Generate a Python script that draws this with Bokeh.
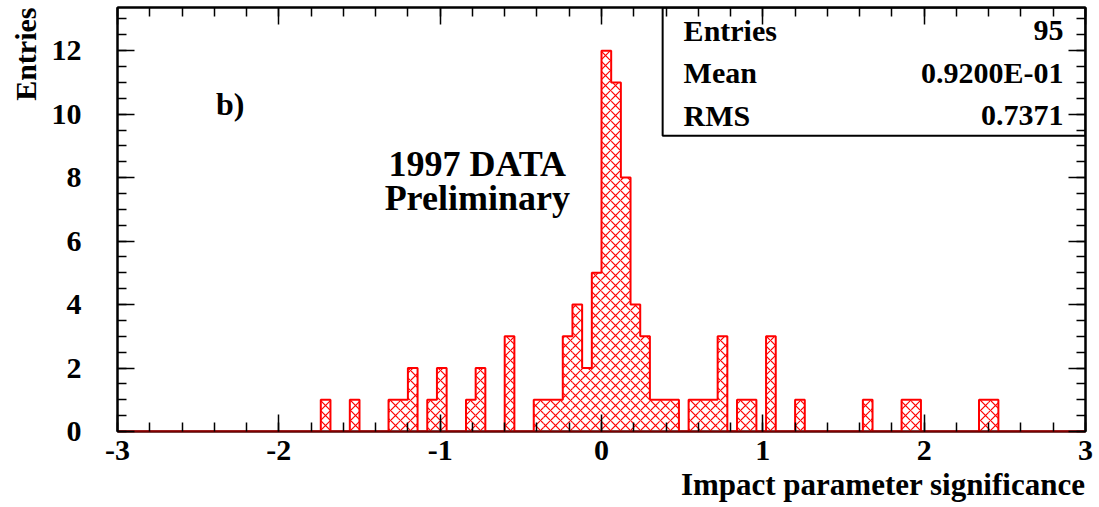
from bokeh.plotting import figure
from bokeh.models import (LinearAxis, SingleIntervalTicker, Label, BoxAnnotation, Range1d,
                          Title, PrintfTickFormatter, CustomJSTickFormatter)
from bokeh.embed import file_html
from bokeh.resources import INLINE

# Histogram binning: 100 bins on [-3, 3]
x_lo, x_hi, n_bins = -3.0, 3.0, 100

# Entries per bin
counts = [
    0, 0, 0, 0, 0, 0, 0, 0, 0, 0,
    0, 0, 0, 0, 0, 0, 0, 0, 0, 0,
    0, 1, 0, 0, 1, 0, 0, 0, 1, 1,
    2, 0, 1, 2, 0, 0, 1, 2, 0, 0,
    3, 0, 0, 1, 1, 1, 3, 4, 2, 5,
    12, 11, 8, 4, 3, 1, 1, 1, 0, 1,
    1, 1, 3, 0, 1, 1, 0, 3, 0, 0,
    1, 0, 0, 0, 0, 0, 0, 1, 0, 0,
    0, 1, 1, 0, 0, 0, 0, 0, 0, 1,
    1, 0, 0, 0, 0, 0, 0, 0, 0, 0,
]

# Statistics box
stat_names = ["Entries", "Mean", "RMS"]
stat_values = ["95", "0.9200E-01", "0.7371"]

x_title = "Impact parameter significance"
y_title = "Entries"
panel_tag = "b)"
note_lines = ["1997 DATA", "Preliminary"]

y_max = 13.36
FONT = "Liberation Serif"
HIST_RED = "#ff0000"

width = (x_hi - x_lo) / n_bins
edges = [x_lo + i * width for i in range(n_bins + 1)]

p = figure(width=1099, height=507,
           x_range=Range1d(x_lo, x_hi), y_range=Range1d(0, y_max),
           output_backend="svg", toolbar_location=None,
           x_axis_location=None, y_axis_location=None,
           min_border_left=117, min_border_right=14,
           min_border_top=7, min_border_bottom=76)
p.xgrid.grid_line_color = None
p.ygrid.grid_line_color = None
p.outline_line_color = "black"
p.outline_line_width = 2
p.background_fill_color = "white"
p.border_fill_color = "white"

# Cross-hatched bin bodies
filled = [i for i, c in enumerate(counts) if c > 0]
p.quad(left=[edges[i] for i in filled], right=[edges[i + 1] for i in filled],
       bottom=0, top=[counts[i] for i in filled],
       fill_color=None, line_color=None,
       hatch_pattern="x", hatch_color=HIST_RED, hatch_scale=10, hatch_weight=1.2)

# Histogram envelope
p.step(x=edges, y=counts + [0], mode="after", line_color=HIST_RED, line_width=2)


def make_axis(ticker, labels, **kw):
    ax = LinearAxis(ticker=ticker, **kw)
    ax.axis_line_width = 2
    ax.axis_line_color = "black"
    ax.major_tick_in = 17
    ax.major_tick_out = 0
    ax.minor_tick_in = 9
    ax.minor_tick_out = 0
    ax.major_tick_line_width = 1.5
    ax.minor_tick_line_width = 1.5
    ax.major_tick_line_color = "black"
    ax.minor_tick_line_color = "black"
    if labels:
        ax.formatter = PrintfTickFormatter(format="%d")
        ax.major_label_text_font = FONT
        ax.major_label_text_font_style = "bold"
        ax.major_label_text_font_size = "30px"
        ax.major_label_text_color = "black"
    else:
        ax.formatter = CustomJSTickFormatter(code="return ''")
        ax.major_label_standoff = 0
    return ax


xt = SingleIntervalTicker(interval=1, num_minor_ticks=5)
yt = SingleIntervalTicker(interval=2, num_minor_ticks=4)

bottom_ax = make_axis(xt, True, major_label_standoff=9)
bottom_ax.axis_line_color = "#7a0000"
p.add_layout(bottom_ax, "below")
p.add_layout(make_axis(yt, True, major_label_standoff=36), "left")
p.add_layout(make_axis(xt, False), "above")
p.add_layout(make_axis(yt, False), "right")

# Axis titles, placed at the far end of each axis
p.add_layout(Title(text=x_title, align="right", text_font=FONT, text_font_style="bold",
                   text_font_size="31px", text_color="black", standoff=5), "below")
p.add_layout(Title(text=y_title, align="right", text_font=FONT, text_font_style="bold",
                   text_font_size="30px", text_color="black", standoff=13), "left")

# Panel tag and notes
p.add_layout(Label(x=-2.39, y=10.33, text=panel_tag, text_align="left", text_baseline="middle",
                   text_font=FONT, text_font_style="bold", text_font_size="32px",
                   text_color="black"))
for txt, yy in zip(note_lines, [8.44, 7.37]):
    p.add_layout(Label(x=-0.77, y=yy, text=txt, text_align="center", text_baseline="middle",
                       text_font=FONT, text_font_style="bold", text_font_size="36px",
                       text_color="black"))

# Statistics box
box_left = 0.379
box_bottom = 9.32
p.add_layout(BoxAnnotation(left=box_left, right=x_hi, bottom=box_bottom, top=y_max,
                           fill_color=None, line_color="black", line_alpha=1.0,
                           line_width=2))
for name, val, yy in zip(stat_names, stat_values, [12.63, 11.31, 9.95]):
    p.add_layout(Label(x=0.509, y=yy, text=name, text_align="left", text_baseline="middle",
                       text_font=FONT, text_font_style="bold", text_font_size="30px",
                       text_color="black"))
    p.add_layout(Label(x=2.864, y=yy, text=val, text_align="right", text_baseline="middle",
                       text_font=FONT, text_font_style="bold", text_font_size="30px",
                       text_color="black"))

open("out.html", "w").write(file_html(p, INLINE))
